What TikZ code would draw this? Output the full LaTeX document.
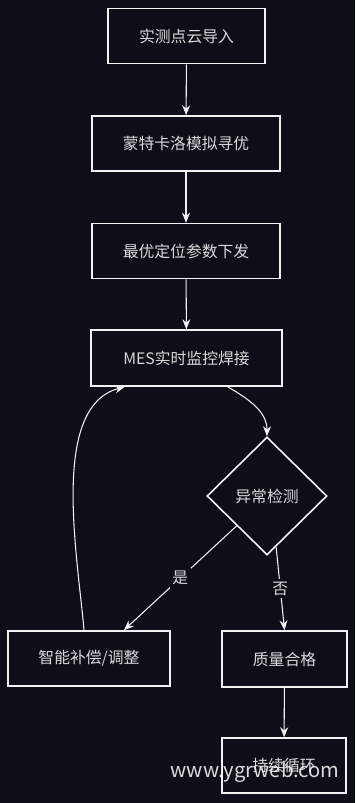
\documentclass[tikz,border=0pt]{standalone}
\usepackage{fontspec}
\setmainfont{Noto Sans CJK SC}
\usepackage{tikz}
\usetikzlibrary{arrows.meta, positioning, shapes.geometric, calc}
\definecolor{flowBg}{HTML}{0C0F17}
\definecolor{flowLine}{HTML}{F2F2F2}
\definecolor{flowText}{HTML}{D9D9D9}

\begin{document}
\begin{tikzpicture}[
  x=0.02cm, y=-0.02cm,
  font=\fontsize{9pt}{11pt}\selectfont,
  box/.style={draw=flowLine, line width=0.9pt, fill=flowBg, text=flowText, inner sep=0pt,
              minimum height=1.1cm},
  check/.style={diamond, draw=flowLine, line width=0.9pt, fill=flowBg, text=flowText, inner sep=0pt,
                minimum width=2.4cm, minimum height=2.36cm},
  a/.style={-{Stealth[length=2mm, width=1.6mm]}, draw=flowLine, line width=0.6pt},
  lbl/.style={fill=flowBg, text=flowText, inner sep=1.5pt}
]
\fill[flowBg] (0,0) rectangle (355,803);
\useasboundingbox (0,0) rectangle (355,803);

\node[box, minimum width=3.14cm] (import) at (186.5,36) {实测点云导入};
\node[box, minimum width=3.76cm] (montecarlo) at (186,143.5) {蒙特卡洛模拟寻优};
\node[box, minimum width=3.76cm] (dispatch) at (186,251) {最优定位参数下发};
\node[box, minimum width=3.82cm, minimum height=1.12cm] (mes) at (186.5,358) {MES实时监控焊接};
\node[check] (detect) at (267,496) {异常检测};
\node[box, minimum width=3.24cm] (comp) at (89,658.5) {智能补偿/调整};
\node[box, minimum width=2.5cm, minimum height=1.12cm] (pass) at (284.5,659) {质量合格};
\node[box, minimum width=2.48cm] (loop) at (284,765.5) {持续循环};

\draw[a] (import) -- (montecarlo);
\draw[a] (montecarlo) -- (dispatch);
\draw[a] (dispatch) -- (mes);
\draw[a] (mes.-35) to[out=-30, in=90] (detect.north);
\draw[a] (detect.south west) -- (comp.39)
  node[midway, lbl] {是};
\draw[a] ($(detect.south)!0.15!(detect.east)$) -- (pass.north)
  node[midway, lbl] {否};
\draw[a] (comp.100) to[out=95, in=195, looseness=0.8] (mes.-155);
\draw[a] (pass) -- (loop);

\node[text=white, opacity=0.85, font=\fontsize{11.5pt}{13pt}\selectfont] (mark) at (255,772) {www.ygrweb.com};
\end{tikzpicture}
\end{document}
